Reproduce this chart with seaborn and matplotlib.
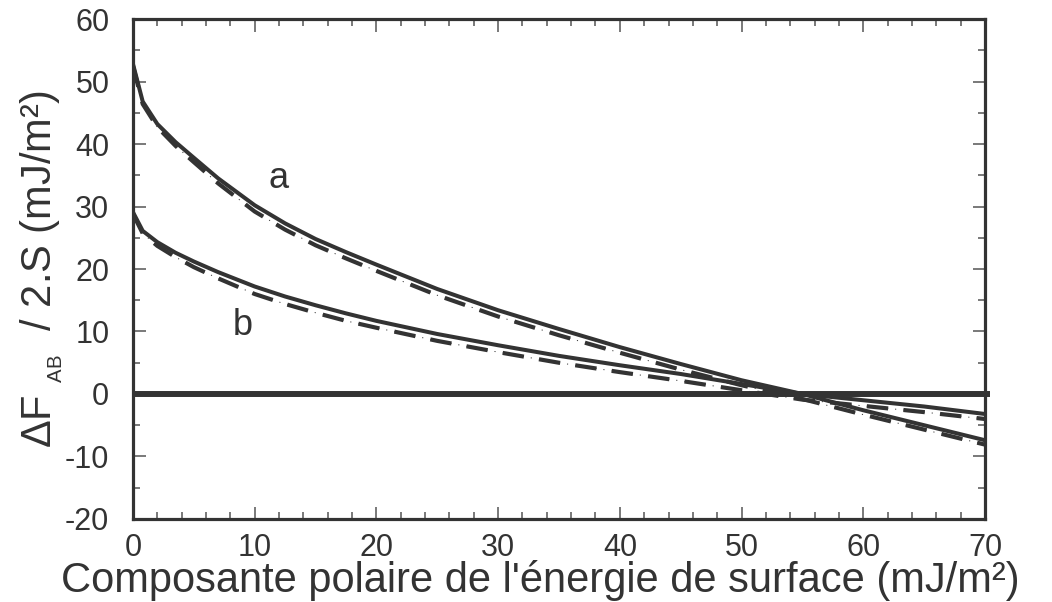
import matplotlib
matplotlib.use('Agg')
import matplotlib.pyplot as plt
from matplotlib.ticker import MultipleLocator
import seaborn as sns

# values
x_vals = [0, 0.8, 2, 3.5, 5, 7, 10, 12.5, 15, 17.5, 20, 25, 30, 35, 40, 45, 50, 55, 60, 65, 70]
a_solid = [52.8, 46.8, 43.2, 40.3, 37.8, 34.5, 30.2, 27.3, 24.8, 22.7, 20.7, 16.8, 13.4, 10.4,
           7.5, 4.8, 2.2, 0.0, -2.6, -5.0, -7.4]
a_dash = [52.5, 46.4, 42.7, 39.7, 37.1, 33.7, 29.2, 26.3, 23.8, 21.7, 19.7, 15.8, 12.4, 9.4,
          6.6, 3.9, 1.4, -0.8, -3.3, -5.7, -8.1]
b_solid = [29.1, 26.1, 24.3, 22.6, 21.2, 19.5, 17.2, 15.6, 14.2, 12.9, 11.7, 9.6, 7.8, 6.1,
           4.6, 3.2, 1.6, 0.0, -1.0, -2.0, -3.2]
b_dash = [28.8, 25.7, 23.7, 21.9, 20.3, 18.5, 16.0, 14.4, 13.0, 11.7, 10.6, 8.5, 6.7, 5.0,
          3.5, 2.1, 0.6, -0.9, -1.9, -2.9, -4.0]

curve_labels = ['a', 'b']
label_pos = [(12, 34.5), (9, 11)]

ink = '#333333'

sns.set_style('ticks')
plt.rcParams['font.family'] = ['Liberation Sans', 'DejaVu Sans']
plt.rcParams['mathtext.fontset'] = 'custom'
plt.rcParams['mathtext.rm'] = 'Liberation Sans'
plt.rcParams['mathtext.it'] = 'Liberation Sans'
plt.rcParams['lines.scale_dashes'] = False
plt.rcParams['axes.unicode_minus'] = False

fig = plt.figure(figsize=(10.52, 6.02), dpi=100)
ax = fig.add_axes([0.1264, 0.1379, 0.8099, 0.8305])

for solid, dash in [(a_solid, a_dash), (b_solid, b_dash)]:
    sns.lineplot(x=x_vals, y=solid, ax=ax, color=ink, linewidth=2.9)
    sns.lineplot(x=x_vals, y=dash, ax=ax, color=ink, linewidth=3.0,
                 linestyle=(0, (15.5, 11)))
    sns.lineplot(x=x_vals, y=dash, ax=ax, color=ink, linewidth=0.7,
                 linestyle=(0, (15.5, 5, 0.8, 5.2)))

ax.axhline(0, xmin=0, xmax=1.006, color=ink, linewidth=4.3, clip_on=False,
           solid_capstyle='butt')

for lab, (lx, ly) in zip(curve_labels, label_pos):
    ax.text(lx, ly, lab, fontsize=26, color=ink, ha='center', va='center')

ax.set_xlim(0, 70)
ax.set_ylim(-20, 60)
ax.xaxis.set_major_locator(MultipleLocator(10))
ax.xaxis.set_minor_locator(MultipleLocator(2))
ax.yaxis.set_major_locator(MultipleLocator(10))
ax.yaxis.set_minor_locator(MultipleLocator(5))
ax.tick_params(which='both', direction='in', top=True, right=True,
               color='#555555', width=1.1, labelcolor=ink)
ax.tick_params(which='major', length=9, labelsize=22)
ax.tick_params(which='minor', length=5)
ax.tick_params(axis='y', which='major', pad=17)
ax.tick_params(axis='x', which='major', pad=10)

for s in ax.spines.values():
    s.set_linewidth(2.3)
    s.set_color(ink)

ax.set_xlabel("Composante polaire de l'énergie de surface (mJ/m²)",
              fontsize=30, color=ink, labelpad=-2)
ax.xaxis.label.set_x(0.478)
ax.set_ylabel(r'ΔF $_{_{\mathrm{AB}}}$  / 2.S (mJ/m²)', fontsize=30, color=ink, labelpad=0)

fig.savefig('out.png', dpi=100)
